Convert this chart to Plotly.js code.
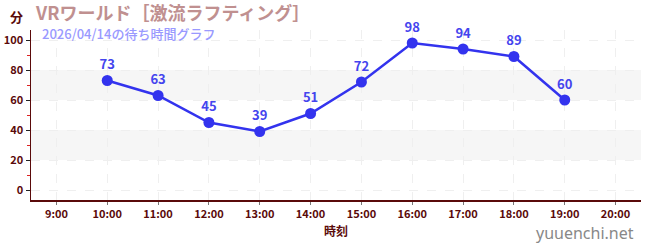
<!DOCTYPE html>
<html><head><meta charset="utf-8">
<script src="https://cdn.plot.ly/plotly-3.0.1.min.js"></script>
<style>html,body{margin:0;padding:0;background:#fff}#c{width:650px;height:250px}</style>
</head><body><div id="c"></div>
<script>
const hours = [10, 11, 12, 13, 14, 15, 16, 17, 18, 19];
const waits = [73, 63, 45, 39, 51, 72, 98, 94, 89, 60];
const xTickVals = [9, 10, 11, 12, 13, 14, 15, 16, 17, 18, 19, 20];
const xTickText = ["9:00","10:00","11:00","12:00","13:00","14:00","15:00","16:00","17:00","18:00","19:00","20:00"];
const yTickVals = [0, 20, 40, 60, 80, 100];
const bands = [[20, 40], [60, 80]];
const titleText = "VRワールド［激流ラフティング］";
const subText = "2026/04/14の待ち時間グラフ";

const F = "'Noto Sans CJK JP', 'Noto Sans', sans-serif";
const axisCol = "#5a0a0a";
const W = 650, H = 250, ML = 31, MR = 9, MT = 30, MB = 50;
const PW = W - ML - MR, PH = H - MT - MB;
const px = x => (x - ML) / PW;
const py = y => (H - MB - y) / PH;

const shapes = bands.map(b => ({type:'rect', xref:'paper', yref:'y', x0:0, x1:1, y0:b[0], y1:b[1],
  fillcolor:'#f6f6f6', line:{width:0}, layer:'below'}));

const data = [{
  x: hours, y: waits, type:'scatter', mode:'lines+markers+text',
  text: waits.map(String), textposition:'top center',
  textfont:{family:F, size:13, color:'#4444ee', weight:'bold'},
  line:{color:'#3333ee', width:2.5},
  marker:{color:'#3333ee', size:11},
  cliponaxis:false, hoverinfo:'none'
}];

const layout = {
  width:W, height:H,
  margin:{l:ML, r:MR, t:MT, b:MB},
  paper_bgcolor:'#fff', plot_bgcolor:'#fff',
  showlegend:false,
  font:{family:F, color:axisCol},
  shapes: shapes,
  xaxis:{
    range:[8.5, 20.5], tickvals:xTickVals, ticktext:xTickText,
    showline:true, linecolor:axisCol, linewidth:1.5,
    ticks:'outside', ticklen:3, tickcolor:'#777',
    showgrid:true, gridcolor:'#efefef', griddash:'dash', gridwidth:1,
    zeroline:false,
    tickfont:{family:F, size:11, color:axisCol, weight:'bold'},
    title:{text:'時刻', font:{family:F, size:12, color:axisCol, weight:'bold'}, standoff:8}
  },
  yaxis:{
    range:[-6.67, 106.67], tickvals:yTickVals,
    showline:true, linecolor:axisCol, linewidth:1.5,
    ticks:'outside', ticklen:4, tickcolor:'#222',
    showgrid:true, gridcolor:'#efefef', griddash:'dash', gridwidth:1,
    zeroline:false,
    tickfont:{family:F, size:11, color:axisCol, weight:'bold'},
    minor:{tickvals:[10,30,50,70,90], ticks:'outside', ticklen:3, tickcolor:'#dd2222', showgrid:false}
  },
  annotations:[
    {text:titleText, xref:'paper', x:px(34), xanchor:'left', yref:'paper', y:py(12), yanchor:'middle',
     showarrow:false, borderpad:0, font:{family:F, size:18, color:'#c09090', weight:'bold'}},
    {text:subText, xref:'paper', x:px(41), xanchor:'left', yref:'paper', y:py(33.5), yanchor:'middle',
     showarrow:false, borderpad:0, font:{family:F, size:13, color:'#9999ff', weight:500}},
    {text:'分', xref:'paper', x:px(16), xanchor:'center', yref:'paper', y:py(16), yanchor:'middle',
     showarrow:false, font:{family:F, size:13, color:axisCol, weight:'bold'}},
    {text:'yuuenchi.net', xref:'paper', x:px(636), xanchor:'right', yref:'paper', y:py(233), yanchor:'middle',
     showarrow:false, font:{family:"'Noto Sans', sans-serif", size:16, color:'#888'}}
  ]
};
Plotly.newPlot('c', data, layout, {staticPlot:true});
</script></body></html>
